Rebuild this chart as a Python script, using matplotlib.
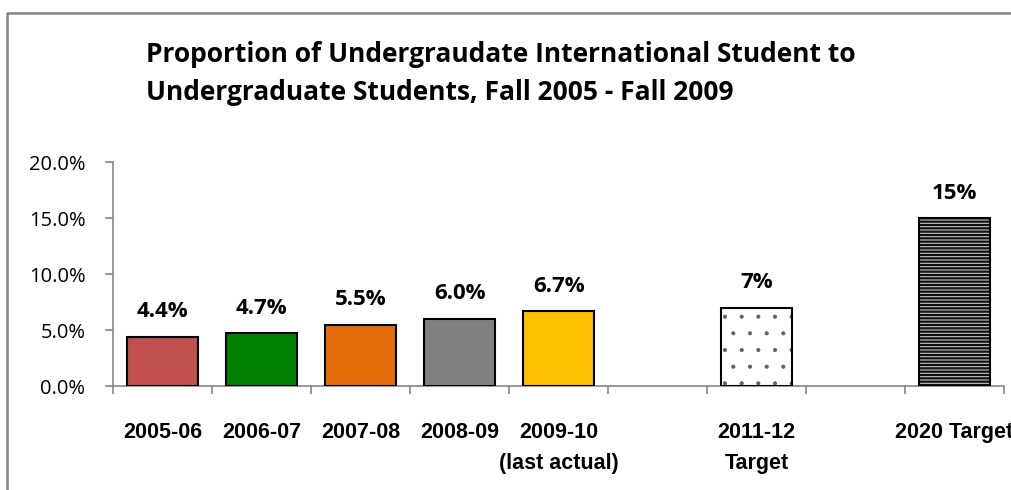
import numpy as np
import matplotlib
matplotlib.use("Agg")
from matplotlib import pyplot as plt
from matplotlib.lines import Line2D

# data
categories = ["2005-06", "2006-07", "2007-08", "2008-09", "2009-10\n(last actual)",
              "", "2011-12\nTarget", "", "2020 Target"]
values = [4.4, 4.7, 5.5, 6.0, 6.7, np.nan, 7.0, np.nan, 15.0]
value_labels = ["4.4%", "4.7%", "5.5%", "6.0%", "6.7%", "", "7%", "", "15%"]
bar_colors = ["#C0504D", "#008000", "#E46C0A", "#808080", "#FFC000",
              "white", "white", "white", "#C8C8C8"]
bar_hatches = [None, None, None, None, None, None, ".", None, "-----"]
hatch_colors = [None, None, None, None, None, None, "#606060", None, "#111111"]
hatch_widths = [1, 1, 1, 1, 1, 1, 0.5, 1, 1.6]
y_ticks = [0, 5, 10, 15, 20]

fig = plt.figure(figsize=(10.11, 4.9), dpi=100)
ax = fig.add_axes([0.112, 0.212, 0.881, 0.457])

x = np.arange(len(categories))
for i in range(len(categories)):
    if np.isnan(values[i]):
        continue
    if bar_hatches[i]:
        # hatch drawn in its own colour, outline drawn on top in black
        plt.rcParams["hatch.linewidth"] = hatch_widths[i]
        ax.bar(x[i], values[i], width=0.72, color=bar_colors[i],
               edgecolor=hatch_colors[i], linewidth=0, hatch=bar_hatches[i], zorder=3)
        ax.bar(x[i], values[i], width=0.72, fill=False,
               edgecolor="black", linewidth=1.5, zorder=4)
    else:
        ax.bar(x[i], values[i], width=0.72, color=bar_colors[i],
               edgecolor="black", linewidth=1.5, zorder=3)
    ax.text(x[i], values[i] + 1.3, value_labels[i], ha="center", va="bottom",
            fontsize=16, fontweight="bold", family="Open Sans")

ax.set_xlim(-0.5, len(categories) - 0.5)
ax.set_ylim(0, 20)
ax.set_yticks(y_ticks)
ax.set_yticklabels([f"{t:.1f}%" for t in y_ticks], fontsize=14.5, family="Open Sans")

# ticks on category boundaries, labels centered under bars
ax.set_xticks(np.arange(len(categories) + 1) - 0.5)
ax.set_xticklabels([])
ax.set_xticks(x, minor=True)
ax.set_xticklabels(categories, minor=True, fontsize=15.5, fontweight="bold",
                   family="Liberation Sans", linespacing=1.6)
ax.tick_params(axis="x", which="minor", length=0, pad=26)
ax.tick_params(axis="x", which="major", direction="out", length=6, color="#868686", width=1.2)
ax.tick_params(axis="y", direction="out", length=6, color="#868686", width=1.2, pad=14)

for side in ["top", "right"]:
    ax.spines[side].set_visible(False)
ax.spines["left"].set_color("#868686")
ax.spines["bottom"].set_color("#868686")
ax.spines["left"].set_linewidth(1.2)
ax.spines["bottom"].set_linewidth(1.2)

fig.text(0.144, 0.85, "Proportion of Undergraudate International Student to\n"
         "Undergraduate Students, Fall 2005 - Fall 2009",
         ha="left", va="center", fontsize=19, fontweight="bold",
         family="Open Sans", linespacing=1.55)

# chart frame (only top and left edges fall inside the picture)
frame_top = 1 - 13 / 490
frame_left = 7 / 1011
fig.add_artist(Line2D([frame_left, frame_left, 1.0], [0.0, frame_top, frame_top],
                      transform=fig.transFigure, color="#868686", linewidth=1.8))

fig.savefig("out.png", dpi=100)
